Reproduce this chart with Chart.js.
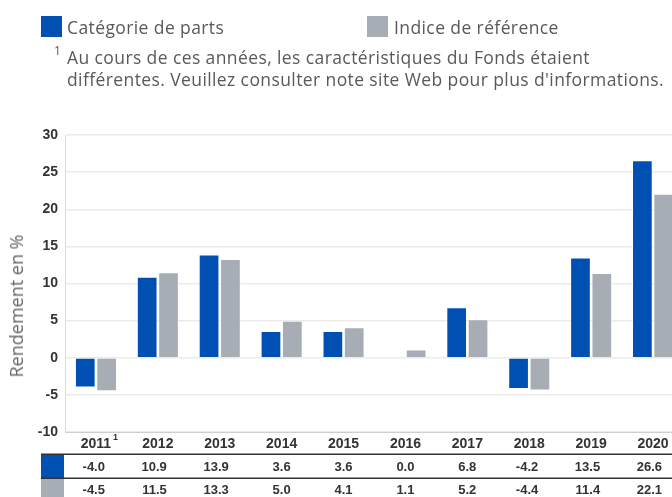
<!DOCTYPE html>
<html>
<head>
<meta charset="utf-8">
<script src="https://cdn.jsdelivr.net/npm/chart.js@4.4.1/dist/chart.umd.min.js"></script>
<style>
  html, body { margin: 0; padding: 0; background: #fff; overflow: hidden; width: 672px; height: 497px; }
  #wrap { position: relative; width: 672px; height: 497px; overflow: hidden; }
  canvas { position: absolute; left: 0; top: 0; }
  .t { position: absolute; font-family: "Open Sans", sans-serif; color: #595959; white-space: nowrap; letter-spacing: 0.4px; }
  .sq { position: absolute; width: 21px; height: 21px; }
</style>
</head>
<body>
<div id="wrap">
  <canvas id="c" width="690" height="497" style="width:690px;height:497px"></canvas>
  <div class="sq" style="left:41px;top:16px;background:#0050b4"></div>
  <div class="t" id="lg1" style="left:67px;top:15px;font-size:17.5px;line-height:24px">Catégorie de parts</div>
  <div class="sq" style="left:367px;top:16px;background:#a7adb4"></div>
  <div class="t" id="lg2" style="left:394px;top:15px;font-size:17.5px;line-height:24px">Indice de référence</div>
  <div class="t" style="left:54px;top:44px;font-size:12px;line-height:14px">1</div>
  <div class="t" id="fn1" style="left:67px;top:46px;font-size:17.5px;line-height:22px">Au cours de ces années, les caractéristiques du Fonds étaient</div>
  <div class="t" id="fn2" style="left:67px;top:68px;font-size:17.5px;line-height:22px">différentes. Veuillez consulter note site Web pour plus d'informations.</div>
  <div class="t" id="ytitle" style="left:16px;top:306px;font-size:18px;line-height:22px;color:#666;letter-spacing:0;transform:translate(-50%,-50%) rotate(-90deg);">Rendement en %</div>
</div>
<script>
const categories = ["2011", "2012", "2013", "2014", "2015", "2016", "2017", "2018", "2019", "2020"];
const footnoted = [true, false, false, false, false, false, false, false, false, false];
const fundValues = [-4.0, 10.9, 13.9, 3.6, 3.6, 0.0, 6.8, -4.2, 13.5, 26.6];
const benchValues = [-4.5, 11.5, 13.3, 5.0, 4.1, 1.1, 5.2, -4.4, 11.4, 22.1];
const seriesNames = ["Catégorie de parts", "Indice de référence"];
const yTicks = { min: -10, max: 30, step: 5 };

const BLUE = "#0050b4";
const GRAY = "#a7adb4";

const tablePlugin = {
  id: "tablePlugin",
  afterDraw(chart) {
    const ctx = chart.ctx;
    const x = chart.scales.x;
    const W = chart.width;
    ctx.save();
    ctx.fillStyle = BLUE;
    ctx.fillRect(41, 455, 23, 23);
    ctx.fillStyle = GRAY;
    ctx.fillRect(41, 479, 23, 18);
    ctx.strokeStyle = "#333";
    ctx.lineWidth = 1.5;
    ctx.beginPath();
    ctx.moveTo(41, 454.25); ctx.lineTo(W, 454.25);
    ctx.moveTo(41, 478.25); ctx.lineTo(W, 478.25);
    ctx.stroke();
    ctx.fillStyle = "#333";
    ctx.font = "bold 13px 'Liberation Sans', Arial, sans-serif";
    ctx.textAlign = "right";
    ctx.textBaseline = "middle";
    const rows = [[fundValues, 467], [benchValues, 490]];
    rows.forEach(([vals, y]) => {
      vals.forEach((v, i) => {
        const cx = x.getPixelForValue(i);
        ctx.fillText(v.toFixed(1), cx + 9, y);
      });
    });
    ctx.font = "bold 9px 'Liberation Sans', Arial, sans-serif";
    ctx.textAlign = "left";
    categories.forEach((c, i) => {
      if (footnoted[i]) {
        const cx = x.getPixelForValue(i);
        ctx.fillText("1", cx + 17, 438);
      }
    });
    ctx.restore();
  }
};

new Chart(document.getElementById("c"), {
  type: "bar",
  data: {
    labels: categories,
    datasets: [
      { label: seriesNames[0], data: fundValues, backgroundColor: BLUE, borderColor: "rgba(255,255,255,0.45)", borderWidth: 1, barPercentage: 0.97, categoryPercentage: 0.69 },
      { label: seriesNames[1], data: benchValues, backgroundColor: GRAY, borderColor: "rgba(255,255,255,0.45)", borderWidth: 1, barPercentage: 0.97, categoryPercentage: 0.69 }
    ]
  },
  options: {
    responsive: false,
    animation: false,
    devicePixelRatio: 1,
    layout: { padding: { top: 135, left: 0, right: 6, bottom: 0 } },
    plugins: { legend: { display: false }, tooltip: { enabled: false }, title: { display: false } },
    scales: {
      x: {
        grid: { display: false, drawTicks: false },
        border: { display: true, color: "#cfcfcf", width: 1 },
        ticks: { color: "#333", font: { family: "'Liberation Sans', Arial, sans-serif", size: 14, weight: "bold" }, padding: 4, maxRotation: 0, autoSkip: false },
        afterFit(s) { s.height = 65; }
      },
      y: {
        min: yTicks.min, max: yTicks.max,
        ticks: { stepSize: yTicks.step, color: "#333", font: { family: "'Liberation Sans', Arial, sans-serif", size: 14, weight: "bold" }, padding: 7 },
        grid: { color: "#ebebeb", drawTicks: false, lineWidth: 1.5 },
        border: { display: true, color: "#d9d9d9", width: 1 },
        afterFit(s) { s.width = 65; }
      }
    }
  },
  plugins: [tablePlugin]
});
</script>
</body>
</html>
